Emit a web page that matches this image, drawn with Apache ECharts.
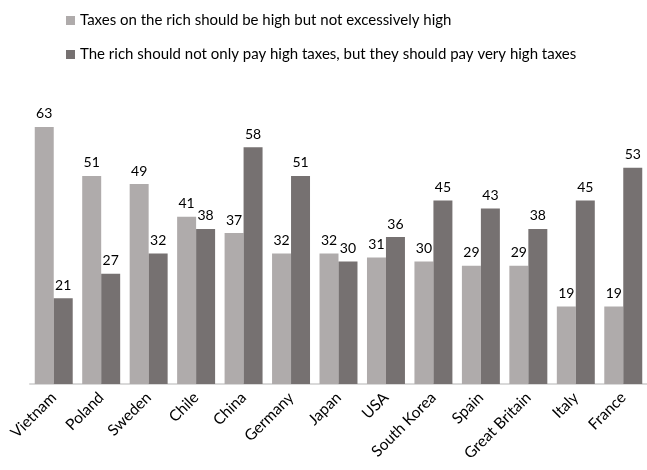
<!DOCTYPE html>
<html>
<head>
<meta charset="utf-8">
<script src="https://cdn.jsdelivr.net/npm/echarts@6/dist/echarts.min.js"></script>
<style>
  html, body { margin: 0; padding: 0; background: #fff; }
  #chart { width: 647px; height: 470px; }
</style>
</head>
<body>
<div id="chart"></div>
<script>
const countries = ['Vietnam', 'Poland', 'Sweden', 'Chile', 'China', 'Germany', 'Japan', 'USA', 'South Korea', 'Spain', 'Great Britain', 'Italy', 'France'];
const highNotExcessive = [63, 51, 49, 41, 37, 32, 32, 31, 30, 29, 29, 19, 19];
const veryHigh = [21, 27, 32, 38, 58, 51, 30, 36, 45, 43, 38, 45, 53];
const seriesNames = [
  'Taxes on the rich should be high but not excessively high',
  'The rich should not only pay high taxes, but they should pay very high taxes'
];

const font = 'Lato, "Open Sans", sans-serif';
const chart = echarts.init(document.getElementById('chart'));

const labelStyle = { show: true, position: 'top', color: '#000', fontSize: 14, fontFamily: font, distance: 6 };

chart.setOption({
  animation: false,
  legend: {
    orient: 'vertical',
    left: 61,
    top: 8,
    itemWidth: 9,
    itemHeight: 9,
    itemGap: 19,
    icon: 'rect',
    textStyle: { fontSize: 15, fontFamily: font, color: '#000' },
    data: seriesNames
  },
  grid: { left: 30, right: 0, top: 98.4, bottom: 86 },
  xAxis: {
    type: 'category',
    data: countries,
    axisLine: { lineStyle: { color: '#D9D9D9', width: 2 } },
    axisTick: { show: false },
    axisLabel: { rotate: 45, color: '#000', fontSize: 15.5, fontFamily: font, margin: 11, interval: 0 }
  },
  yAxis: {
    type: 'value',
    min: 0,
    max: 70,
    show: false,
    splitLine: { show: false }
  },
  series: [
    {
      name: seriesNames[0],
      type: 'bar',
      data: highNotExcessive,
      barGap: '0%',
      barCategoryGap: '20%',
      itemStyle: { color: '#AFABAB' },
      label: labelStyle
    },
    {
      name: seriesNames[1],
      type: 'bar',
      data: veryHigh,
      itemStyle: { color: '#767171' },
      label: labelStyle
    }
  ]
});
</script>
</body>
</html>
